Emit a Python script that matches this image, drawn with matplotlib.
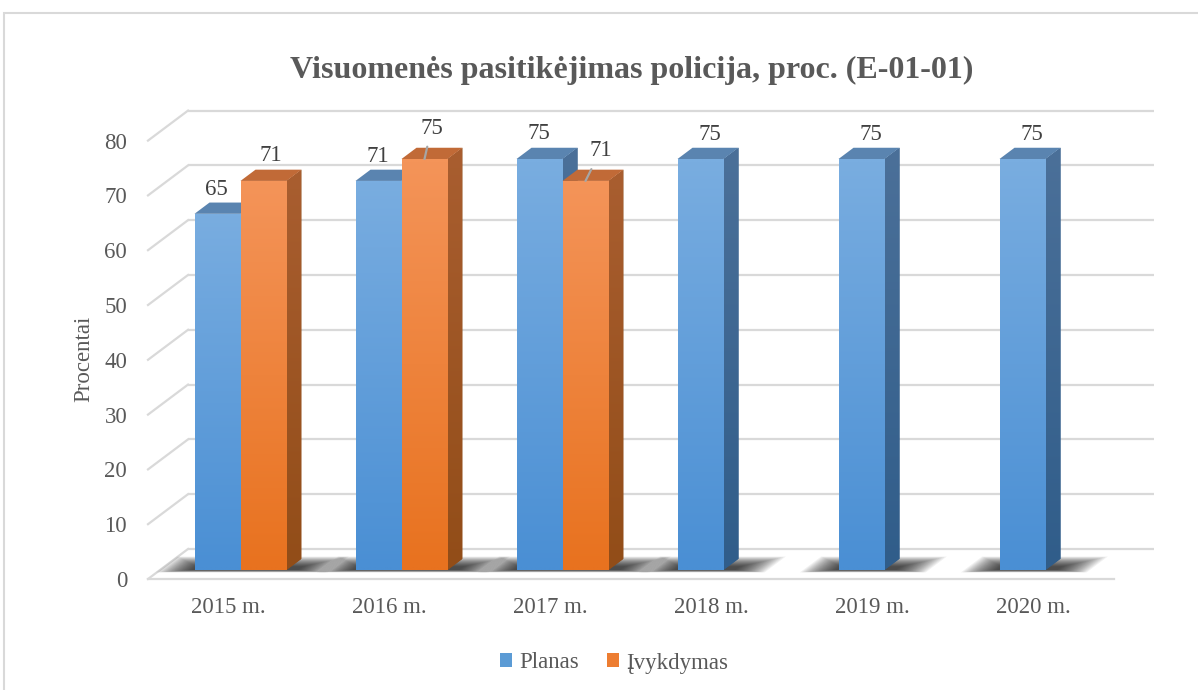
import numpy as np
import matplotlib
matplotlib.use('Agg')
import matplotlib.pyplot as plt
from matplotlib.patches import Polygon, Rectangle, Patch
from matplotlib.colors import to_rgb

# ---------------- data ----------------
categories = ['2015 m.', '2016 m.', '2017 m.', '2018 m.', '2019 m.', '2020 m.']
planas = [65, 71, 75, 75, 75, 75]
ivykdymas = [71, 75, 71, None, None, None]
series_names = ['Planas', 'Įvykdymas']
yticks = [0, 10, 20, 30, 40, 50, 60, 70, 80]
title = 'Visuomenės pasitikėjimas policija, proc. (E-01-01)'
ylabel = 'Procentai'

# ---------------- style ----------------
FONT = ['Liberation Serif', 'DejaVu Serif']
plt.rcParams['font.family'] = FONT
TXT = '#595959'
LBL = '#404040'
GRID = '#d9d9d9'

W, H, DPI = 1198, 690, 100
PX = 5.48            # pixels per value unit
YMAX = 86
fig = plt.figure(figsize=(W / DPI, H / DPI), dpi=DPI)
fig.patch.set_facecolor('white')
ax = fig.add_axes([148 / W, (H - 579) / H, 966 / W, YMAX * PX / H])
ax.set_xlim(-0.5, len(categories) - 0.5)
ax.set_ylim(0, YMAX)
ax.set_autoscale_on(False)
for s in ax.spines.values():
    s.set_visible(False)
ax.patch.set_alpha(0)

DX = 40 / 161          # depth offset in x data units (full depth)
DY = 30 / PX           # depth offset in y data units (full depth)
F = 0.30               # depth of bar front face
D = 0.375              # bar depth
BW = 0.2857            # bar width

x0, x1 = ax.get_xlim()

# back wall gridlines + side-wall diagonals + floor
for v in yticks:
    ax.plot([x0 + DX, x1 + DX], [v + DY, v + DY], color=GRID, lw=1.6,
            zorder=1, clip_on=False, solid_capstyle='butt')
    ax.plot([x0, x0 + DX], [v, v + DY], color=GRID, lw=1.6, zorder=1,
            clip_on=False)
ax.plot([x0, x1], [0, 0], color=GRID, lw=1.6, zorder=1, clip_on=False)


def grad_fill(patch, c_top, c_bot, extent, z):
    n = 64
    t = np.linspace(0, 1, n)[:, None]
    c = np.array(to_rgb(c_top)) * (1 - t) + np.array(to_rgb(c_bot)) * t
    img = c[:, None, :]
    im = ax.imshow(img, extent=extent, aspect='auto', origin='upper',
                   zorder=z, interpolation='bilinear')
    im.set_clip_path(patch)
    return im


palette = {
    0: dict(front=('#79ade0', '#4a8fd4'), side=('#4b7099', '#305d8a'),
            top='#5a84b0'),
    1: dict(front=('#f49459', '#e8721f'), side=('#a95e30', '#924d18'),
            top='#c16a37'),
}

# shadows (per category), built from many soft layers
for i in range(len(categories)):
    n_present = 1 + (ivykdymas[i] is not None)
    xa = i - BW
    xb = i - BW + n_present * BW + D * DX * 0.6
    N = 20
    for k in range(N):
        t = k / (N - 1)
        ex = 0.2 * (1 - t) + 0.02
        dd0 = 0.30 - 0.08 * (1 - t)
        dd1 = 0.42 + 0.33 * (1 - t)
        pts = [(xa - ex + dd0 * DX, dd0 * DY), (xb + ex + dd0 * DX, dd0 * DY),
               (xb + ex + dd1 * DX, dd1 * DY), (xa - ex + dd1 * DX, dd1 * DY)]
        ax.add_patch(Polygon(pts, closed=True, facecolor='black', alpha=0.055,
                             edgecolor='none', zorder=2))

# bars
series = [planas, ivykdymas]
zc = 3.0
for i in range(len(categories)):
    for si, vals in enumerate(series):
        v = vals[i]
        if v is None:
            continue
        col = palette[si]
        xl = i - BW + si * BW + F * DX
        xr = xl + BW
        b = F * DY
        side = Polygon([(xr, b), (xr + D * DX, b + D * DY),
                        (xr + D * DX, b + v + D * DY), (xr, b + v)],
                       closed=True, facecolor=col['side'][1], edgecolor='none',
                       zorder=zc)
        ax.add_patch(side)
        grad_fill(side, col['side'][0], col['side'][1],
                  (xr, xr + D * DX, b, b + v + D * DY), zc + 0.001)
        top = Polygon([(xl, b + v), (xr, b + v), (xr + D * DX, b + v + D * DY),
                       (xl + D * DX, b + v + D * DY)], closed=True,
                      facecolor=col['top'], edgecolor='none', zorder=zc + 0.002)
        ax.add_patch(top)
        rect = ax.bar(xl, v, width=BW, bottom=b, align='edge',
                      color=col['front'][1], edgecolor='none',
                      zorder=zc + 0.003)[0]
        grad_fill(rect, col['front'][0], col['front'][1],
                  (xl, xr, b, b + v), zc + 0.004)
        zc += 0.01

# data labels
planas_off = [(-1, 24), (-1, 24), (-1, 26), (9, 25), (9, 25), (9, 25)]
ivyk_off = [(7, 25), (7, 31), (15, 30)]
ivyk_leader = [False, True, True]
for si, vals in enumerate(series):
    for i, v in enumerate(vals):
        if v is None:
            continue
        xl = i - BW + si * BW + F * DX
        xc = xl + BW / 2
        yt = F * DY + v
        off = planas_off[i] if si == 0 else ivyk_off[i]
        lead = (si == 1 and ivyk_leader[i])
        kw = {}
        if lead:
            kw['arrowprops'] = dict(arrowstyle='-', color='#a6a6a6', lw=1.6,
                                    shrinkA=4, shrinkB=0)
        ax.annotate(str(v), xy=(xc, yt), xytext=off, textcoords='offset pixels',
                    ha='center', va='center', fontsize=16.5, color=LBL,
                    family=FONT, zorder=10, annotation_clip=False, **kw)

# axes ticks
ax.set_yticks(yticks)
ax.set_yticklabels([str(t) for t in yticks], fontsize=16.5, color=TXT,
                   family=FONT)
ax.set_xticks(range(len(categories)))
ax.set_xticklabels(categories, fontsize=16.5, color=TXT, family=FONT)
ax.tick_params(axis='y', length=0, pad=15)
ax.tick_params(axis='x', length=0, pad=13)

# titles
fig.text(632 / W, 1 - 70 / H, title, ha='center', va='center', fontsize=23,
         fontweight='bold', color=TXT, family=FONT)
fig.text(84 / W, 1 - 359 / H, ylabel, rotation=90, ha='center', va='center',
         fontsize=16.5, color=TXT, family=FONT)

# legend
handles = [Patch(facecolor='#5b9bd5', edgecolor='none'),
           Patch(facecolor='#ed7d31', edgecolor='none')]
leg = fig.legend(handles, series_names, loc='center', ncol=2,
                 bbox_to_anchor=(614 / W, 1 - 663 / H), frameon=False,
                 prop=dict(family=FONT, size=16.5), handlelength=0.55,
                 handleheight=0.55, handletextpad=0.3, columnspacing=1.2)
for t in leg.get_texts():
    t.set_color(TXT)

# chart border
fig.add_artist(Rectangle((4 / W, -0.1), 2, (H - 13) / H + 0.1,
                         transform=fig.transFigure, fill=False,
                         edgecolor='#d9d9d9', lw=1.5))

fig.savefig('out.png', dpi=DPI, facecolor='white')
